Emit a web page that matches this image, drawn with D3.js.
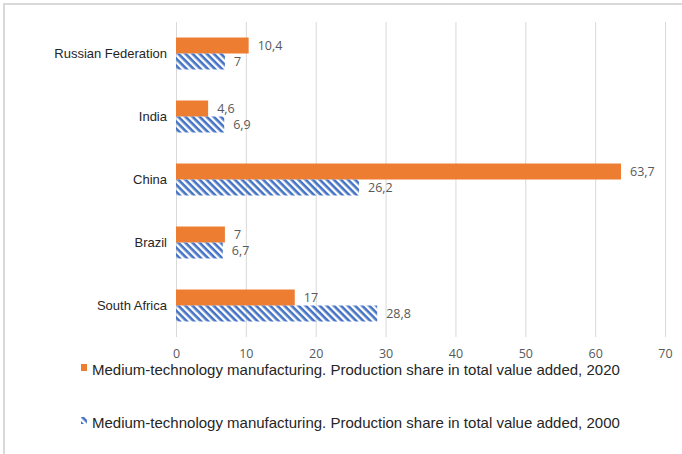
<!DOCTYPE html>
<html>
<head>
<meta charset="utf-8">
<script src="https://cdn.jsdelivr.net/npm/d3@7"></script>
<style>
  body { margin: 0; background: #fff; }
  svg { display: block; }
</style>
</head>
<body>
<div id="chart"></div>
<script>
// data
var countries = ["Russian Federation", "India", "China", "Brazil", "South Africa"];
var share_2020 = [10.4, 4.6, 63.7, 7, 17];
var share_2000 = [7, 6.9, 26.2, 6.7, 28.8];
var x_ticks = [0, 10, 20, 30, 40, 50, 60, 70];
var series_names = [
  "Medium-technology manufacturing. Production share in total value added, 2020",
  "Medium-technology manufacturing. Production share in total value added, 2000"
];

var width = 682, height = 454;
var orange = "#ed7d31", blue = "#4472c4";

var svg = d3.select("#chart").append("svg")
  .attr("width", width)
  .attr("height", height);

// hatch for the 2000 series
var defs = svg.append("defs");
defs.append("pattern")
  .attr("id", "hatch")
  .attr("patternUnits", "userSpaceOnUse")
  .attr("width", 5)
  .attr("height", 5)
  .attr("patternTransform", "rotate(45)")
  .append("rect")
  .attr("x", 0).attr("y", 0)
  .attr("width", 5).attr("height", 2.6)
  .attr("fill", blue);

// frame
svg.append("rect")
  .attr("x", 4).attr("y", 4)
  .attr("width", width + 10).attr("height", height + 10)
  .attr("fill", "#fff")
  .attr("stroke", "#d9d9d9")
  .attr("stroke-width", 2);

var x_scale = d3.scaleLinear().domain([0, 70]).range([176, 665]);
var y_scale = d3.scaleBand().domain(countries).range([22, 337]).paddingInner(0).paddingOuter(0);
var y_inner = d3.scaleBand().domain(["2020", "2000"]).range([0, y_scale.bandwidth()]).paddingOuter(0.97).paddingInner(0);

var fmt = d3.formatLocale({decimal: ",", thousands: " ", grouping: [3], currency: ["", ""]}).format("~g");

// grid
svg.append("g").selectAll("line")
  .data(x_ticks)
  .enter().append("line")
  .attr("x1", function(d){ return x_scale(d) + 0.5 })
  .attr("x2", function(d){ return x_scale(d) + 0.5 })
  .attr("y1", 22).attr("y2", 337)
  .attr("stroke", "#d9d9d9")
  .attr("stroke-width", 1);

// x axis labels
var x_axis = d3.axisBottom(x_scale).tickValues(x_ticks).tickSize(0).tickPadding(0);
var gx = svg.append("g")
  .attr("transform", "translate(0,349)")
  .call(x_axis);
gx.select(".domain").remove();
gx.selectAll("text")
  .attr("fill", "#595959")
  .style("font-family", "'Open Sans', sans-serif")
  .style("font-size", "12.5px");

// category labels
var y_axis = d3.axisLeft(y_scale).tickSize(0).tickPadding(9);
var gy = svg.append("g")
  .attr("transform", "translate(176,0)")
  .call(y_axis);
gy.select(".domain").remove();
gy.selectAll("text")
  .attr("fill", "#262626")
  .style("font-family", "'Liberation Sans', Arial, sans-serif")
  .style("font-size", "13px");

var rows = countries.map(function(c, i){
  return [
    {country: c, key: "2020", value: share_2020[i]},
    {country: c, key: "2000", value: share_2000[i]}
  ];
});

var groups = svg.append("g").selectAll("g")
  .data(rows)
  .enter().append("g")
  .attr("transform", function(d){ return "translate(0," + y_scale(d[0].country) + ")" });

groups.selectAll("rect")
  .data(function(d){ return d })
  .enter().append("rect")
  .attr("x", x_scale(0))
  .attr("y", function(d){ return y_inner(d.key) })
  .attr("width", function(d){ return x_scale(d.value) - x_scale(0) })
  .attr("height", y_inner.bandwidth())
  .attr("fill", function(d){ return d.key == "2020" ? orange : "url(#hatch)" });

groups.selectAll("text")
  .data(function(d){ return d })
  .enter().append("text")
  .attr("x", function(d){ return x_scale(d.value) + 9 })
  .attr("y", function(d){ return y_inner(d.key) + y_inner.bandwidth() / 2 })
  .attr("dy", "0.35em")
  .attr("fill", "#595959")
  .style("font-family", "'Open Sans', sans-serif")
  .style("font-size", "12.5px")
  .text(function(d){ return fmt(d.value) });

// legend
var legend = svg.append("g")
  .selectAll("g")
  .data(series_names)
  .enter().append("g")
  .attr("transform", function(d, i){ return "translate(81," + (368 + i * 53) + ")" });

legend.append("rect")
  .attr("x", 0).attr("y", -4)
  .attr("width", 6).attr("height", 7)
  .attr("fill", function(d, i){ return i == 0 ? orange : "url(#hatch)" });

legend.append("text")
  .attr("x", 11)
  .attr("y", 7)
  .attr("fill", "#262626")
  .style("font-family", "'Liberation Sans', Arial, sans-serif")
  .style("font-size", "15px")
  .text(function(d){ return d });
</script>
</body>
</html>
